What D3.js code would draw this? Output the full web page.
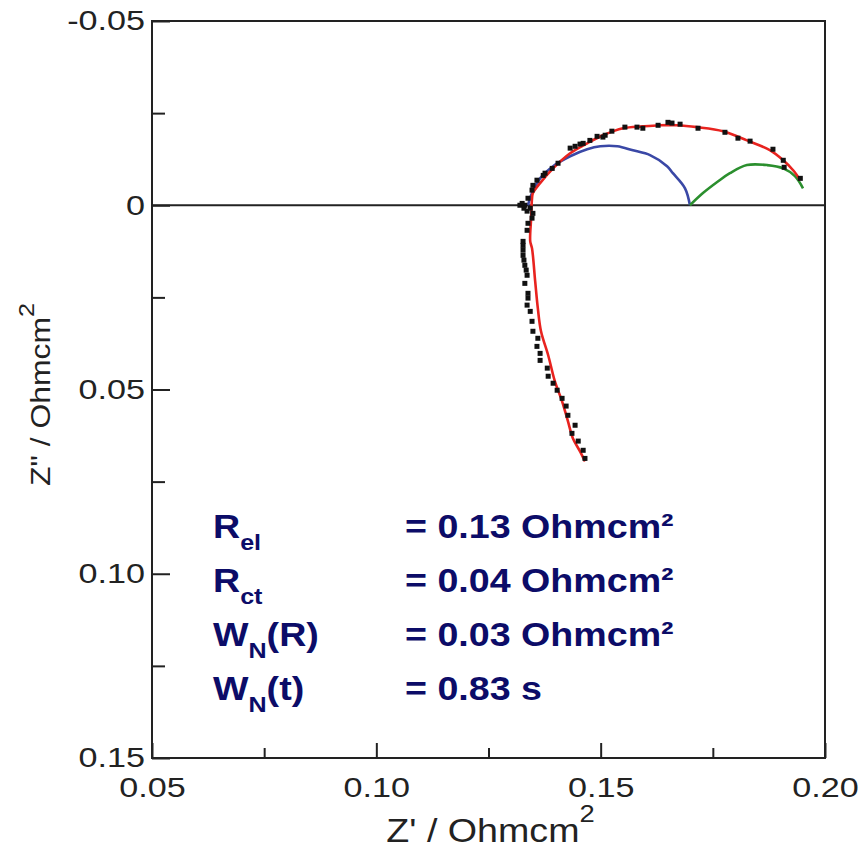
<!DOCTYPE html>
<html>
<head>
<meta charset="utf-8">
<script src="https://cdn.jsdelivr.net/npm/d3@7"></script>
<style>
  body { margin: 0; background: #fff; }
  svg { display: block; font-family: "Liberation Sans", Arial, sans-serif; }
</style>
</head>
<body>
<div id="chart"></div>
<script>
// measured points [Z', Z''] in Ohmcm2
const measured = [
  [0.1945, -0.0073], [0.1909, -0.0103], [0.1907, -0.0122], [0.1884, -0.0152], [0.1833, -0.0174],
  [0.1806, -0.0182], [0.1777, -0.0198], [0.1717, -0.0209], [0.1677, -0.0220], [0.1659, -0.0223],
  [0.1650, -0.0225], [0.1628, -0.0217], [0.1594, -0.0209], [0.1581, -0.0212], [0.1554, -0.0212],
  [0.1525, -0.0201], [0.1510, -0.0190], [0.1505, -0.0185], [0.1492, -0.0187], [0.1476, -0.0176],
  [0.1461, -0.0168], [0.1454, -0.0166], [0.1443, -0.0160], [0.1432, -0.0155], [0.1405, -0.0114],
  [0.1392, -0.0100], [0.1376, -0.0087], [0.1372, -0.0081], [0.1358, -0.0068], [0.1349, -0.0054],
  [0.1347, -0.0041], [0.1338, -0.0019], [0.1331, 0.0000], [0.1320, 0.0000], [0.1325, -0.0005],
  [0.1329, 0.0008], [0.1336, 0.0016], [0.1343, 0.0008], [0.1349, 0.0022], [0.1347, 0.0035],
  [0.1338, 0.0049], [0.1336, 0.0068], [0.1327, 0.0098], [0.1327, 0.0109], [0.1327, 0.0122],
  [0.1327, 0.0136], [0.1329, 0.0149], [0.1331, 0.0163], [0.1334, 0.0176], [0.1336, 0.0190],
  [0.1331, 0.0212], [0.1338, 0.0239], [0.1338, 0.0252], [0.1336, 0.0271], [0.1343, 0.0288],
  [0.1347, 0.0315], [0.1349, 0.0342], [0.1360, 0.0361], [0.1358, 0.0383], [0.1365, 0.0402],
  [0.1365, 0.0421], [0.1381, 0.0442], [0.1383, 0.0464], [0.1394, 0.0483], [0.1403, 0.0502],
  [0.1414, 0.0524], [0.1423, 0.0545], [0.1427, 0.0570], [0.1443, 0.0597], [0.1436, 0.0619],
  [0.1450, 0.0640], [0.1461, 0.0665], [0.1465, 0.0687]
]

// full model fit (red)
const fitTotal = [
  [0.1465, 0.0695], [0.1454, 0.0668], [0.1438, 0.0632], [0.1427, 0.0586], [0.1414, 0.0532],
  [0.1398, 0.0478], [0.1383, 0.0407], [0.1367, 0.0342], [0.1360, 0.0280], [0.1354, 0.0206],
  [0.1347, 0.0117], [0.1343, 0.0098], [0.1345, 0.0035], [0.1347, -0.0019], [0.1349, -0.0033],
  [0.1365, -0.0060], [0.1394, -0.0100], [0.1432, -0.0141], [0.1470, -0.0168], [0.1505, -0.0190],
  [0.1550, -0.0209], [0.1594, -0.0214], [0.1632, -0.0217], [0.1670, -0.0217], [0.1715, -0.0212],
  [0.1773, -0.0201], [0.1826, -0.0176], [0.1878, -0.0149], [0.1907, -0.0122], [0.1929, -0.0095],
  [0.1945, -0.0068]
]

// charge transfer arc (blue)
const fitCt = [
  [0.1338, 0.0000], [0.1347, -0.0033], [0.1365, -0.0073], [0.1394, -0.0106], [0.1432, -0.0133],
  [0.1470, -0.0152], [0.1499, -0.0160], [0.1537, -0.0160], [0.1572, -0.0149], [0.1610, -0.0136],
  [0.1648, -0.0106], [0.1661, -0.0087], [0.1688, -0.0046], [0.1699, 0.0000]
]

// Warburg part (green)
const fitW = [
  [0.1699, 0.0000], [0.1728, -0.0033], [0.1762, -0.0065], [0.1788, -0.0087], [0.1826, -0.0109],
  [0.1871, -0.0109], [0.1907, -0.0100], [0.1933, -0.0079], [0.1951, -0.0046]
]

const xMajor = [0.05, 0.10, 0.15, 0.20]
const xMinor = [0.075, 0.125, 0.175]
const yMajor = [-0.05, 0, 0.05, 0.10, 0.15]
const yMinor = [-0.025, 0.025, 0.075, 0.125]
const yLabels = ['-0.05', '0', '0.05', '0.10', '0.15']
const xLabels = ['0.05', '0.10', '0.15', '0.20']

const legendNames = [['R', 'el', ''], ['R', 'ct', ''], ['W', 'N', '(R)'], ['W', 'N', '(t)']]
const legendValues = ['= 0.13 Ohmcm²', '= 0.04 Ohmcm²', '= 0.03 Ohmcm²', '= 0.83 s']

const width = 866, height = 852
const margin = { top: 21, right: 41, bottom: 94, left: 152 }
const stretch = 1.14
const tickStretch = 1.22

const svg = d3.select('#chart').append('svg')
  .attr('width', width)
  .attr('height', height)

const xScale = d3.scaleLinear()
  .domain([0.05, 0.20])
  .range([margin.left, width - margin.right])

const yScale = d3.scaleLinear()
  .domain([-0.05, 0.15])
  .range([margin.top, height - margin.bottom])

const axisColor = '#222'

// minor ticks
svg.append('g')
  .attr('transform', `translate(${margin.left},0)`)
  .call(d3.axisLeft(yScale).tickValues(yMinor).tickSize(-13).tickFormat(''))
  .call(g => g.select('.domain').remove())
svg.append('g')
  .attr('transform', `translate(0,${yScale(0.15)})`)
  .call(d3.axisBottom(xScale).tickValues(xMinor).tickSize(-10).tickFormat(''))
  .call(g => g.select('.domain').remove())

// major ticks + labels
const yAxisG = svg.append('g')
  .attr('transform', `translate(${margin.left},0)`)
  .call(d3.axisLeft(yScale).tickValues(yMajor).tickSize(-18).tickPadding(7)
    .tickFormat((d, i) => yLabels[i]))
  .call(g => g.select('.domain').remove())

const xAxisG = svg.append('g')
  .attr('transform', `translate(0,${yScale(0.15)})`)
  .call(d3.axisBottom(xScale).tickValues(xMajor).tickSize(-15).tickPadding(19)
    .tickFormat((d, i) => xLabels[i]))
  .call(g => g.select('.domain').remove())

svg.selectAll('.tick line')
  .attr('stroke', axisColor)
  .attr('stroke-width', 2)

yAxisG.selectAll('text')
  .attr('x', -7 / tickStretch)
  .attr('transform', `scale(${tickStretch},1)`)
xAxisG.selectAll('text')
  .attr('transform', `scale(${tickStretch},1)`)
svg.selectAll('.tick text')
  .attr('font-family', '"Liberation Sans", Arial, sans-serif')
  .attr('font-size', 28)
  .attr('fill', axisColor)

// frame
svg.append('rect')
  .attr('x', xScale(0.05))
  .attr('y', yScale(-0.05))
  .attr('width', xScale(0.20) - xScale(0.05))
  .attr('height', yScale(0.15) - yScale(-0.05))
  .attr('fill', 'none')
  .attr('stroke', axisColor)
  .attr('stroke-width', 2)

// zero line
svg.append('line')
  .attr('x1', xScale(0.05))
  .attr('x2', xScale(0.20))
  .attr('y1', yScale(0))
  .attr('y2', yScale(0))
  .attr('stroke', axisColor)
  .attr('stroke-width', 2)

// fit curves
const line = d3.line()
  .x(d => xScale(d[0]))
  .y(d => yScale(d[1]))
  .curve(d3.curveCatmullRom)

const curves = [
  { data: fitCt, color: '#3a48a6' },
  { data: fitW, color: '#2b8f2e' },
  { data: fitTotal, color: '#e8231f' }
]
svg.selectAll('.fit')
  .data(curves)
  .join('path')
  .attr('class', 'fit')
  .attr('d', d => line(d.data))
  .attr('fill', 'none')
  .attr('stroke', d => d.color)
  .attr('stroke-width', 2.6)

// measured dots
svg.selectAll('.pt')
  .data(measured)
  .join('rect')
  .attr('class', 'pt')
  .attr('x', d => xScale(d[0]) - 2.5)
  .attr('y', d => yScale(d[1]) - 2.5)
  .attr('width', 5)
  .attr('height', 5)
  .attr('fill', '#111')

// axis titles
const xTitle = svg.append('text')
  .attr('transform', `translate(${xScale(0.125) + 2},842) scale(${stretch},1)`)
  .attr('text-anchor', 'middle')
  .attr('font-size', 33)
  .attr('fill', axisColor)
xTitle.append('tspan').text("Z' / Ohmcm")
xTitle.append('tspan').attr('font-size', 24).attr('dy', -20).text('2')

const yTitle = svg.append('text')
  .attr('transform', `translate(50,${yScale(0.05) + 5}) rotate(-90) scale(${stretch},1)`)
  .attr('text-anchor', 'middle')
  .attr('font-size', 28)
  .attr('fill', axisColor)
yTitle.append('tspan').text('Z" / Ohmcm')
yTitle.append('tspan').attr('font-size', 22).attr('dy', -16).text('2')

// fitted parameters
const legendColor = '#0c0c68'
const rowY = d3.scaleLinear().domain([0, 3]).range([538, 700])

legendNames.forEach((n, i) => {
  const t = svg.append('text')
    .attr('transform', `translate(213,${rowY(i)}) scale(${stretch},1)`)
    .attr('font-size', 33)
    .attr('font-weight', 'bold')
    .attr('fill', legendColor)
  t.append('tspan').text(n[0])
  t.append('tspan').attr('font-size', 22).attr('dy', 12).text(n[1])
  if (n[2]) t.append('tspan').attr('dy', -12).text(n[2])

  svg.append('text')
    .attr('transform', `translate(405,${rowY(i)}) scale(${stretch},1)`)
    .attr('font-size', 33)
    .attr('font-weight', 'bold')
    .attr('fill', legendColor)
    .text(legendValues[i])
})
</script>
</body>
</html>
